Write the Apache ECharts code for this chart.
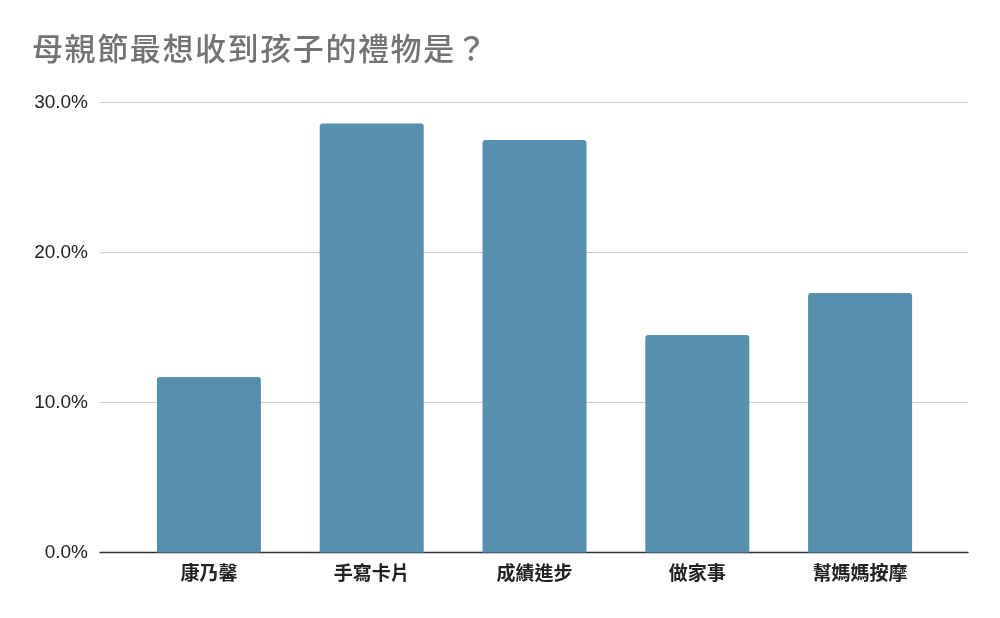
<!DOCTYPE html>
<html>
<head>
<meta charset="utf-8">
<script src="https://cdn.jsdelivr.net/npm/echarts@6/dist/echarts.min.js"></script>
<style>
  html, body { margin: 0; padding: 0; background: #fff; }
  #chart { width: 1000px; height: 618px; }
</style>
</head>
<body>
<div id="chart"></div>
<script>
// data
var chartTitle = '母親節最想收到孩子的禮物是？';
var categories = ['康乃馨', '手寫卡片', '成績進步', '做家事', '幫媽媽按摩'];
var shares = [11.7, 28.6, 27.5, 14.5, 17.3];
var yTicks = [0, 10, 20, 30];

var chart = echarts.init(document.getElementById('chart'));
var cjk = '"Noto Sans CJK TC", "Noto Sans", sans-serif';

// title is spaced out a bit, so each character gets a rich segment with right padding
var spacedTitle = chartTitle.split('').map(function (c) { return '{c|' + c + '}'; }).join('');

var option = {
	backgroundColor: '#ffffff',
	animation: false,
	title: {
		text: spacedTitle,
		left: 27, top: 28,
		textStyle: {
			fontWeight: 'normal',
			rich: {
				c: { fontFamily: cjk, fontSize: 31, fontWeight: 500, color: '#737373', padding: [0, 1.6, 0, 0] }
			}
		}
	},
	grid: [
		// wide grid: gridlines, y labels, baseline
		{ left: 100, right: 32, top: 102.5, bottom: 65.5 },
		// inner grid: bars and category labels
		{ left: 127.5, right: 58.5, top: 102.5, bottom: 65.5 }
	],
	xAxis: [
		{
			gridIndex: 0, type: 'value', min: 0, max: 1,
			axisLine: { show: true, lineStyle: { color: '#333333', width: 1.3 } },
			axisTick: { show: false }, axisLabel: { show: false }, splitLine: { show: false }
		},
		{
			gridIndex: 1, type: 'category', data: categories,
			axisLine: { show: false }, axisTick: { show: false },
			axisLabel: { margin: 11, fontFamily: cjk, fontSize: 19, fontWeight: 'bold', color: '#222222' }
		}
	],
	yAxis: [
		{
			gridIndex: 0, type: 'value',
			min: yTicks[0], max: yTicks[yTicks.length - 1], interval: yTicks[1] - yTicks[0],
			axisLine: { show: false }, axisTick: { show: false },
			axisLabel: {
				margin: 12, fontFamily: '"Liberation Sans", Arial, sans-serif', fontSize: 19, color: '#222222',
				formatter: function (v) { return v.toFixed(1) + '%'; }
			},
			splitLine: { lineStyle: { color: '#cccccc', width: 1 } }
		},
		{
			gridIndex: 1, type: 'value',
			min: yTicks[0], max: yTicks[yTicks.length - 1],
			axisLine: { show: false }, axisTick: { show: false },
			axisLabel: { show: false }, splitLine: { show: false }
		}
	],
	series: [{
		type: 'bar',
		xAxisIndex: 1, yAxisIndex: 1,
		data: shares,
		barWidth: 104,
		itemStyle: { color: '#5790ae', borderRadius: [3, 3, 0, 0] }
	}]
};

chart.setOption(option);
</script>
</body>
</html>
